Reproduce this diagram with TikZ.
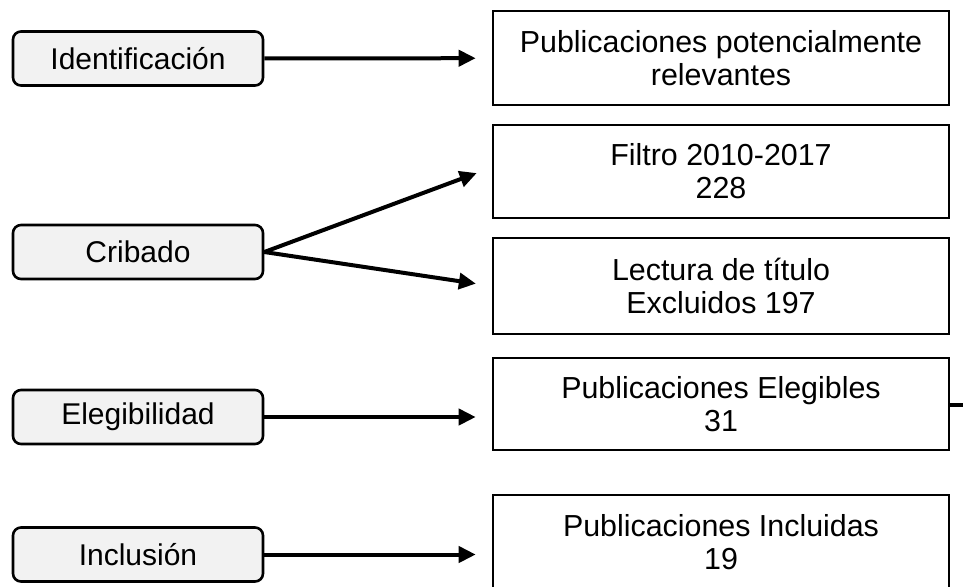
\documentclass[tikz,border=0pt]{standalone}
\usepackage{fontspec}
\setmainfont{Liberation Sans}
\usetikzlibrary{arrows.meta}
\begin{document}
\begin{tikzpicture}[x=0.5pt, y=-0.5pt,
  etapa/.style={draw, line width=1.3pt, rounded corners=4pt, fill=black!5, minimum width=125pt, minimum height=27pt, inner sep=0pt, font=\fontsize{15}{16.5}\selectfont},
  caja/.style={draw, line width=1.3pt, minimum width=228pt, inner sep=0pt, align=center, font=\fontsize{15.2}{16.5}\selectfont},
  flecha/.style={line width=2pt, -{Triangle[length=8.5pt,width=8pt]}, shorten >=8pt}]
\useasboundingbox (0,0) rectangle (963,586);
\clip (0,0) rectangle (963,586);
\node[etapa] (ident) at (138,58.5) {Identificación};
\node[etapa] (cribado) at (138,252) {Cribado};
\node[etapa] (elegib) at (138,417) {Elegibilidad};
\node[etapa] (inclus) at (138,554.5) {Inclusión};
\node[caja, minimum height=47pt] (pub) at (721,58) {Publicaciones potencialmente\\relevantes};
\node[caja, minimum height=46.5pt] (filtro) at (721,171.5) {Filtro 2010-2017\\228};
\node[caja, minimum height=48pt] (lectura) at (721,286) {Lectura de título\\Excluidos 197};
\node[caja, minimum height=46pt] (elegibles) at (721,404) {Publicaciones Elegibles\\31};
\node[caja, minimum height=47pt] (incluidas) at (721,542) {Publicaciones Incluidas\\19};
\coordinate (salida) at (963,405);
\draw[flecha] (ident) -- (pub);
\draw[flecha] (cribado.east) -- ([yshift=2pt]filtro.west);
\draw[flecha] (cribado.east) -- (lectura.west);
\draw[flecha] (elegib) -- (elegib -| elegibles.west);
\draw[flecha] (inclus) -- (inclus -| incluidas.west);
\draw[line width=2pt] (elegibles.east |- salida) -- (salida);
\end{tikzpicture}
\end{document}
